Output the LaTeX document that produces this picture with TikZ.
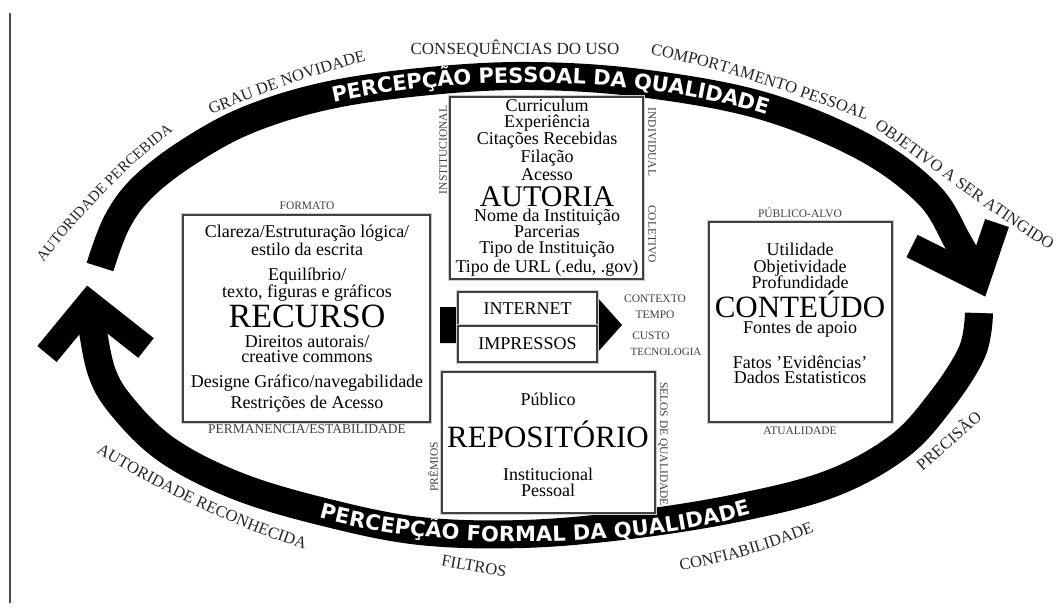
\documentclass[tikz,border=0pt]{standalone}
\usepackage{fontspec}
\setmainfont{Liberation Serif}
\newfontfamily\bandfont{DejaVu Sans}
\usetikzlibrary{decorations.text}

\colorlet{rimgray}{black!85}
\newcommand\bandtext{\bandfont\bfseries\fontsize{21}{21}\selectfont}
\newcommand\rimtext{\fontsize{16.5}{17}\selectfont}
\newcommand\rimsmall{\fontsize{15}{15}\selectfont}

\tikzset{
  band/.style={line width=28pt, line cap=butt},
  chevron/.style={line width=25pt, line join=miter},
  frame/.style={draw=black!75, line width=1.2pt, fill=white, inner sep=0pt, preaction={draw=black!20, line width=4pt}},
  body/.style={font=\fontsize{18}{18}\selectfont, anchor=base, inner sep=0pt},
  title/.style={font=\fontsize{31}{31}\selectfont, anchor=base, inner sep=0pt},
  tag/.style={font=\fontsize{11.5}{12}\selectfont, text=black!75, anchor=base, inner sep=0pt},
  sidetag/.style={font=\fontsize{11.5}{12}\selectfont, text=black!75, inner sep=0pt},
  rim/.style={font=\rimtext, text=rimgray, inner sep=0pt},
  bandlabel/.style={decorate, decoration={text along path, text align=center, text color=white, raise=-7.7pt}},
  rimlabel/.style={decorate, decoration={text along path, text align=center, text color=rimgray}},
}

\begin{document}
\begin{tikzpicture}[x=1pt, y=-1pt]
  \useasboundingbox (0,0) rectangle (1058,615);
  \fill[white] (0,0) rectangle (1058,615);

  % margin rule
  \draw[black!70, line width=2pt] (10,13) -- (10,603);

  %%%%% upper arc: percepcao pessoal %%%%%
  \draw[band] plot[smooth, tension=0.6] coordinates {(100,267) (117,222) (143,187) (190,151) (250,119) (330,95) (430,81) (530,76) (640,83) (760,105) (862,146) (928,194) (958,242) (978,279)};
  \draw[chevron] (912,246) -- (978,279) -- (997,223);
  \path[bandlabel, decoration={text={|\bandtext|PERCEPÇÃO PESSOAL DA QUALIDADE}}] (300,103) .. controls (430,65) and (660,62) .. (800,119);

  %%%%% lower arc: percepcao formal %%%%%
  \draw[band] plot[smooth, tension=0.6] coordinates {(979,313) (972,352) (940,402) (898,447) (830,484) (737,508) (630,525) (523,534) (420,531) (328,513) (240,487) (170,452) (125,410) (101,370) (89,303)};
  \draw[chevron] (47,354) -- (89,303) -- (146,348);
  \path[bandlabel, decoration={text={|\bandtext|PERCEPÇÃO FORMAL DA QUALIDADE}}] (300,504) .. controls (420,545) and (640,545) .. (770,500);

  %%%%% labels round the loop %%%%%
  \path[rimlabel, decoration={text={|\rimsmall|AUTORIDADE PERCEBIDA}}] (34,278) .. controls (55,240) and (140,150) .. (188,121);
  \path[rimlabel, decoration={text={|\rimtext|GRAU DE NOVIDADE}}] (200,120) .. controls (255,95) and (320,72) .. (378,58);
  \node[rim, font=\fontsize{17}{17}\selectfont] (consequencias) at (515,49) {CONSEQUÊNCIAS DO USO};
  \path[rimlabel, decoration={text={|\rimtext|COMPORTAMENTO PESSOAL}}] (640,53) .. controls (715,66) and (800,95) .. (876,124);
  \path[rimlabel, decoration={text={|\rimtext|OBJETIVO A SER ATINGIDO}}] (872,126) .. controls (932,168) and (1000,220) .. (1052,251);
  \node[rim, rotate=41] (precisao) at (948,440) {PRECISÃO};
  \path[rimlabel, decoration={text={|\rimtext|CONFIABILIDADE}}] (668,573) .. controls (720,565) and (770,550) .. (826,527);
  \node[rim, rotate=-10] (filtros) at (474,566) {FILTROS};
  \path[rimlabel, decoration={text={|\rimtext|AUTORIDADE RECONHECIDA}}] (86,446) .. controls (150,485) and (225,525) .. (316,553);

  %%%%% meio: internet / impressos %%%%%
  \fill (440,307) -- (597,307) -- (597,297) -- (622,325) -- (597,353) -- (597,343) -- (440,343) -- cycle;
  \node[frame, minimum width=139pt, minimum height=34pt, font=\fontsize{18}{18}\selectfont] (internet) at (527.5,309) {INTERNET};
  \node[frame, minimum width=139pt, minimum height=36pt, font=\fontsize{18}{18}\selectfont] (impressos) at (527.5,344) {IMPRESSOS};
  \node[tag] (contexto) at (655,302) {CONTEXTO};
  \node[tag] (tempo) at (655,318) {TEMPO};
  \node[tag] (custo) at (651,339) {CUSTO};
  \node[tag, font=\fontsize{11}{12}\selectfont] (tecnologia) at (666,355) {TECNOLOGIA};

  %%%%% autoria %%%%%
  \node[frame, minimum width=193pt, minimum height=182pt] (autoria) at (546.5,188) {};
  \node[body] (curriculum) at (547,112) {Curriculum};
  \node[body] (experiencia) at (547,128) {Experiência};
  \node[body] (citacoes) at (547,145) {Citações Recebidas};
  \node[body] (filacao) at (547,163) {Filação};
  \node[body] (acesso) at (547,180) {Acesso};
  \node[title, font=\fontsize{30}{30}\selectfont] (autoriatitle) at (547,206) {AUTORIA};
  \node[body] (nome) at (547,221) {Nome da Instituição};
  \node[body] (parcerias) at (547,237) {Parcerias};
  \node[body] (tipoinst) at (547,253) {Tipo de Instituição};
  \node[body] (tipourl) at (547,272) {Tipo de URL (.edu, .gov)};
  \node[sidetag, rotate=90] (institucional) at (443,150) {INSTITUCIONAL};
  \node[sidetag, rotate=-90] (individual) at (652,142) {INDIVIDUAL};
  \node[sidetag, rotate=-90] (coletivo) at (652,234) {COLETIVO};

  %%%%% recurso %%%%%
  \node[frame, minimum width=247pt, minimum height=207pt] (recurso) at (306.5,318.5) {};
  \node[tag] (formato) at (307,209) {FORMATO};
  \node[body] (clareza) at (307,237) {Clareza/Estruturação lógica/};
  \node[body] (estilo) at (307,255) {estilo da escrita};
  \node[body] (equilibrio) at (307,280) {Equilíbrio/};
  \node[body] (texto) at (307,297) {texto, figuras e gráficos};
  \node[title, font=\fontsize{34}{34}\selectfont] (recursotitle) at (307,327) {RECURSO};
  \node[body] (direitos) at (307,347) {Direitos autorais/};
  \node[body] (creative) at (307,362) {creative commons};
  \node[body] (designe) at (307,387) {Designe Gráfico/navegabilidade};
  \node[body] (restricoes) at (307,408) {Restrições de Acesso};
  \node[tag, font=\fontsize{13.5}{14}\selectfont] (permanencia) at (307,433) {PERMANENCIA/ESTABILIDADE};

  %%%%% conteudo %%%%%
  \node[frame, minimum width=183pt, minimum height=200pt] (conteudo) at (800.5,322) {};
  \node[tag] (publicoalvo) at (800,217) {PÚBLICO-ALVO};
  \node[body] (utilidade) at (800,255) {Utilidade};
  \node[body] (objetividade) at (800,272) {Objetividade};
  \node[body] (profundidade) at (800,288) {Profundidade};
  \node[title] (conteudotitle) at (800,317) {CONTEÚDO};
  \node[body] (fontes) at (800,333) {Fontes de apoio};
  \node[body] (fatos) at (800,368) {Fatos 'Evidências'};
  \node[body] (dados) at (800,383) {Dados Estatisticos};
  \node[tag] (atualidade) at (800,434) {ATUALIDADE};

  %%%%% repositorio %%%%%
  \node[frame, minimum width=213pt, minimum height=141pt] (repositorio) at (548.5,442.5) {};
  \node[body] (publico) at (548,405) {Público};
  \node[title] (repositoriotitle) at (548,447) {REPOSITÓRIO};
  \node[body] (institucional2) at (548,480) {Institucional};
  \node[body] (pessoal) at (548,496) {Pessoal};
  \node[sidetag, rotate=90] (premios) at (433,467) {PRÊMIOS};
  \node[sidetag, rotate=-90] (selos) at (663,444) {SELOS DE QUALIDADE};
\end{tikzpicture}
\end{document}
